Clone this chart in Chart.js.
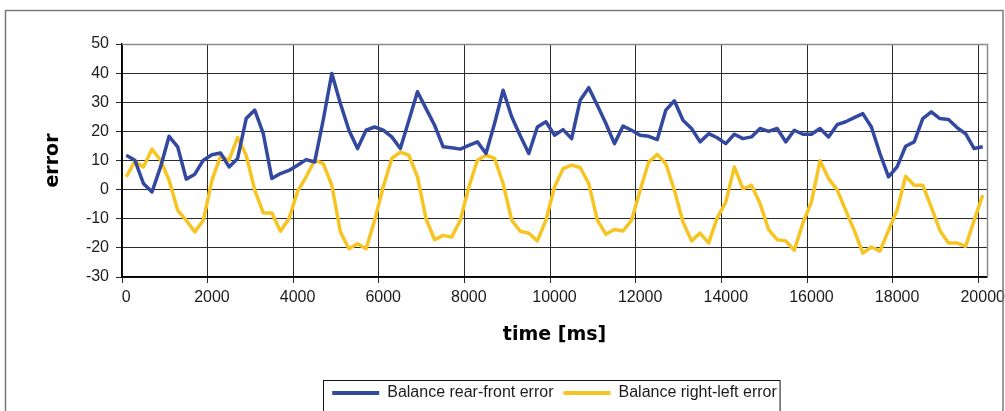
<!DOCTYPE html>
<html>
<head>
<meta charset="utf-8">
<script src="https://cdn.jsdelivr.net/npm/chart.js@4/dist/chart.umd.min.js"></script>
<style>
  html, body { margin: 0; padding: 0; background: #fff; }
  #wrap { width: 1005px; height: 411px; }
</style>
</head>
<body>
<div id="wrap"><canvas id="balanceChart"></canvas></div>
<script>
// sample times, one every 200 ms
const timeMs = Array.from({ length: 101 }, (_, i) => i * 200);

const rearFront = [
  11.8, 10.1, 2.1, -0.8, 7.8, 18.3, 14.7, 3.6, 5.3, 10.1,
  12.0, 12.6, 7.8, 10.7, 24.4, 27.3, 19.2, 3.8, 5.5, 6.6,
  8.4, 10.3, 9.5, 24.0, 39.9, 29.6, 20.4, 14.1, 20.4, 21.5,
  20.4, 18.1, 14.1, 23.8, 33.6, 27.8, 22.1, 14.7, 14.4, 13.9,
  15.2, 16.4, 12.4, 22.7, 34.1, 25.0, 18.5, 12.4, 21.5, 23.3,
  18.7, 20.6, 17.5, 30.7, 35.0, 29.0, 22.7, 15.8, 21.8, 20.4,
  18.7, 18.3, 17.2, 27.3, 30.5, 23.8, 21.0, 16.4, 19.2, 17.8,
  15.8, 19.0, 17.5, 18.1, 21.0, 20.0, 21.0, 16.4, 20.4, 19.0,
  19.0, 21.0, 18.1, 22.3, 23.3, 24.7, 26.1, 21.5, 12.4, 4.4,
  7.8, 14.9, 16.4, 24.4, 26.7, 24.4, 24.1, 21.3, 19.2, 14.1,
  14.7
];

const rightLeft = [
  4.4, 9.7, 7.8, 13.9, 10.1, 3.2, -7.1, -10.5, -14.5, -10.5,
  3.2, 11.5, 10.1, 17.9, 11.8, -0.2, -8.0, -8.0, -14.3, -10.0,
  -0.6, 4.4, 10.1, 8.9, 1.5, -14.5, -20.3, -18.6, -20.3, -10.5,
  0.9, 10.7, 12.9, 11.8, 4.4, -10.0, -17.2, -15.7, -16.3, -10.5,
  0.9, 10.1, 11.8, 10.7, 2.1, -10.5, -14.3, -15.0, -17.6, -10.5,
  0.9, 7.2, 8.4, 7.6, 2.1, -10.5, -15.3, -13.7, -14.2, -10.5,
  -0.2, 9.5, 12.1, 8.9, -0.2, -11.1, -17.6, -14.9, -18.3, -9.7,
  -4.3, 7.8, 0.3, 1.5, -4.8, -13.7, -17.2, -17.6, -20.8, -11.5,
  -4.2, 9.9, 3.8, 0.0, -7.1, -14.0, -21.8, -19.7, -21.1, -14.0,
  -7.1, 4.6, 1.5, 1.5, -6.0, -14.0, -18.3, -18.3, -19.5, -10.5,
  -1.9
];

const seriesNames = ['Balance rear-front error', 'Balance right-left error'];
const yTicks = { min: -30, max: 50, step: 10 };
const labelEvery = 10;

const BLUE = '#33489f';
const YELLOW = '#f6c523';
const GRID = '#2b2b2b';
const TEXT = '#1c1c1c';

// gray frame round the whole chart, plus top/right edges of the plot
const frames = {
  id: 'frames',
  beforeDatasetsDraw(chart) {
    const { ctx, chartArea: a } = chart;
    ctx.save();
    ctx.strokeStyle = '#8c8c8c';
    ctx.lineWidth = 1.5;
    ctx.beginPath();
    ctx.moveTo(a.left, a.top + 0.5);
    ctx.lineTo(a.right + 0.5, a.top + 0.5);
    ctx.lineTo(a.right + 0.5, a.bottom);
    ctx.stroke();
    ctx.restore();
  },
  afterDraw(chart) {
    const { ctx } = chart;
    ctx.save();
    ctx.strokeStyle = '#7a7a7a';
    ctx.lineWidth = 1.5;
    ctx.strokeRect(5.5, 10.5, 997.5, 420);
    // box round the legend
    const boxes = chart.legend.legendHitBoxes;
    if (boxes.length) {
      const first = boxes[0], last = boxes[boxes.length - 1];
      ctx.strokeStyle = '#111';
      ctx.lineWidth = 1;
      ctx.strokeRect(Math.round(first.left) - 8.5, Math.round(first.top) - 4.5,
        last.left + last.width - first.left + 12, 60);
    }
    ctx.restore();
  }
};

new Chart('balanceChart', {
  type: 'line',
  data: {
    labels: timeMs,
    datasets: [
      {
        label: seriesNames[0],
        data: rearFront,
        borderColor: BLUE,
        backgroundColor: BLUE,
        borderWidth: 3.5,
        pointRadius: 0,
        tension: 0,
        borderJoinStyle: 'round'
      },
      {
        label: seriesNames[1],
        data: rightLeft,
        borderColor: YELLOW,
        backgroundColor: YELLOW,
        borderWidth: 3.5,
        pointRadius: 0,
        tension: 0,
        borderJoinStyle: 'round'
      }
    ]
  },
  options: {
    responsive: true,
    maintainAspectRatio: false,
    animation: false,
    layout: { padding: { top: 44, right: 18, left: 0, bottom: 0 } },
    plugins: {
      tooltip: { enabled: false },
      legend: {
        position: 'bottom',
        fullSize: false,
        labels: {
          boxWidth: 47,
          boxHeight: 4,
          padding: 10,
          color: TEXT,
          font: { family: 'Liberation Sans', size: 16 },
          generateLabels(chart) {
            const items = Chart.defaults.plugins.legend.labels.generateLabels(chart);
            items.forEach(it => { it.lineWidth = 0; });
            return items;
          }
        }
      }
    },
    scales: {
      x: {
        type: 'category',
        offset: true,
        grid: {
          offset: true,
          tickLength: 6,
          color: ctx => (ctx.index % labelEvery === 0 ? GRID : 'rgba(0,0,0,0)')
        },
        border: { color: '#000', width: 1.5 },
        ticks: {
          autoSkip: false,
          maxRotation: 0,
          padding: 5,
          color: TEXT,
          font: { family: 'Liberation Sans', size: 16 },
          callback(value, index) {
            return index % labelEvery === 0 ? this.getLabelForValue(value) : '';
          }
        },
        title: {
          display: true,
          text: 'time [ms]',
          color: '#000',
          font: { family: 'DejaVu Sans', size: 19, weight: 'bold' },
          padding: { top: 0, bottom: 29 }
        },
        afterFit(scale) {
          scale.height = 98;
          scale.paddingLeft = 0;
          scale.paddingRight = 0;
        }
      },
      y: {
        min: yTicks.min,
        max: yTicks.max,
        grid: { color: GRID, tickLength: 6 },
        border: { color: '#000', width: 1.5 },
        ticks: {
          stepSize: yTicks.step,
          padding: 7,
          color: TEXT,
          font: { family: 'Liberation Sans', size: 16 }
        },
        title: {
          display: true,
          text: 'error',
          color: '#000',
          font: { family: 'DejaVu Sans', size: 19, weight: 'bold' },
          padding: { top: 42, bottom: 0 }
        },
        afterFit(scale) {
          scale.width = 122;
        }
      }
    }
  },
  plugins: [frames]
});
</script>
</body>
</html>
